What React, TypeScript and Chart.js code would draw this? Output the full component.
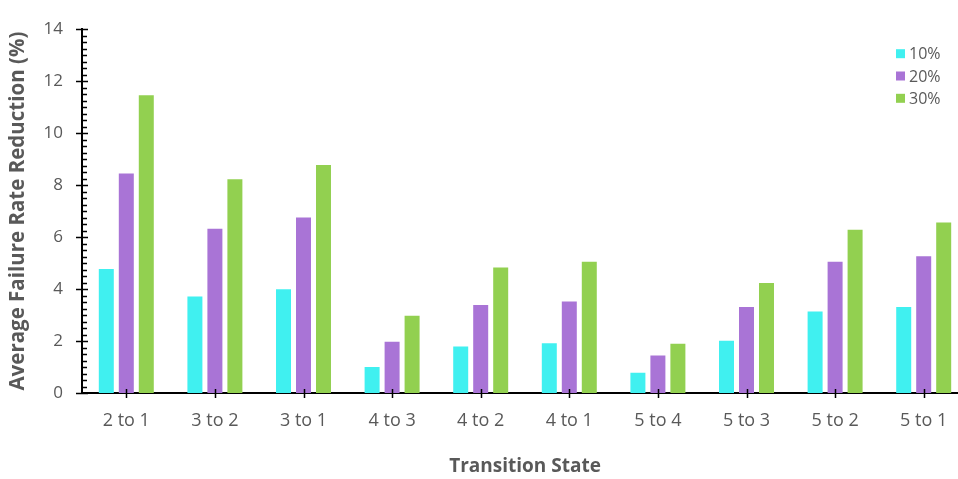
import React, { useEffect, useRef } from "react";
import { Chart, registerables } from "chart.js";

Chart.register(...registerables);

const categories = ["2 to 1", "3 to 2", "3 to 1", "4 to 3", "4 to 2", "4 to 1", "5 to 4", "5 to 3", "5 to 2", "5 to 1"];
const seriesLabels = ["10%", "20%", "30%"];
const values10 = [4.77, 3.71, 3.99, 1.0, 1.79, 1.91, 0.78, 2.01, 3.14, 3.31];
const values20 = [8.45, 6.32, 6.75, 1.97, 3.39, 3.52, 1.44, 3.31, 5.05, 5.26];
const values30 = [11.46, 8.23, 8.77, 2.97, 4.83, 5.05, 1.9, 4.23, 6.28, 6.56];
const yMin = 0;
const yMax = 14;
const yMajorStep = 2;
const yMinorStep = 0.25;

const colors = ["#40F0F0", "#A974D6", "#92D050"];
const FONT = "'Open Sans', 'Noto Sans', sans-serif";
const TEXT = "#595959";

const axisTicksPlugin = {
  id: "axisTicks",
  afterDraw(chart: any) {
    const { ctx } = chart;
    const y = chart.scales.y;
    const x = chart.scales.x;
    const area = chart.chartArea;
    ctx.save();
    ctx.strokeStyle = "#000";
    ctx.lineWidth = 1.5;
    ctx.beginPath();
    const n = Math.round((yMax - yMin) / yMinorStep);
    for (let i = 0; i <= n; i++) {
      const v = yMin + i * yMinorStep;
      const py = Math.round(y.getPixelForValue(v)) + 0.5;
      const major = Math.abs(v / yMajorStep - Math.round(v / yMajorStep)) < 1e-6;
      if (major) {
        ctx.moveTo(area.left - 6, py);
        ctx.lineTo(area.left + 6, py);
      } else {
        ctx.moveTo(area.left, py);
        ctx.lineTo(area.left + 5, py);
      }
    }
    for (let i = 0; i < categories.length; i++) {
      const px = Math.round(x.getPixelForValue(i)) + 0.5;
      ctx.moveTo(px, area.bottom - 4);
      ctx.lineTo(px, area.bottom + 5);
    }
    ctx.stroke();

    // legend inside chart area (top right)
    ctx.font = `16px ${FONT}`;
    ctx.textBaseline = "middle";
    ctx.textAlign = "left";
    chart.data.datasets.forEach((ds: any, i: number) => {
      const cy = area.top + 24.5 + i * 22.3;
      const bx = area.right - 72;
      ctx.fillStyle = ds.backgroundColor;
      ctx.fillRect(bx, cy - 4.5, 9, 9);
      ctx.fillStyle = TEXT;
      ctx.fillText(ds.label, bx + 13, cy + 1);
    });
    ctx.restore();
  },
};

export default function App() {
  const ref = useRef<HTMLCanvasElement | null>(null);
  useEffect(() => {
    if (!ref.current) return;
    const chart = new Chart(ref.current, {
      type: "bar",
      data: {
        labels: categories,
        datasets: [
          { label: seriesLabels[0], data: values10, backgroundColor: colors[0] },
          { label: seriesLabels[1], data: values20, backgroundColor: colors[1] },
          { label: seriesLabels[2], data: values30, backgroundColor: colors[2] },
        ],
      },
      options: {
        animation: false,
        responsive: true,
        maintainAspectRatio: false,
        layout: { padding: { top: 17, right: 0, left: 0, bottom: 0 } },
        datasets: {
          bar: { categoryPercentage: 0.677, barPercentage: 0.75 },
        },
        plugins: {
          legend: { display: false },
          tooltip: { enabled: false },
        },
        scales: {
          x: {
            grid: { display: false, drawTicks: false },
            border: { display: true, color: "#000", width: 2 },
            ticks: { color: TEXT, font: { family: FONT, size: 18 }, padding: 17, maxRotation: 0 },
            title: {
              display: true,
              text: "Transition State",
              color: TEXT,
              font: { family: FONT, size: 19, weight: "bold" },
              padding: { top: 0, bottom: 1 },
            },
            afterFit: (s: any) => {
              s.height = 86;
            },
          },
          y: {
            min: yMin,
            max: yMax,
            grid: { display: false, drawTicks: false },
            border: { display: true, color: "#000", width: 2 },
            ticks: { stepSize: yMajorStep, color: TEXT, font: { family: FONT, size: 17 }, padding: 19 },
            title: {
              display: true,
              text: "Average Failure Rate Reduction (%)",
              color: TEXT,
              font: { family: FONT, size: 20.5, weight: "bold" },
              padding: { top: 6, bottom: 0 },
            },
            afterFit: (s: any) => {
              s.width = 82;
            },
          },
        },
      },
      plugins: [axisTicksPlugin],
    });
    return () => chart.destroy();
  }, []);
  return (
    <div style={{ position: "fixed", left: 0, top: 0, width: 958, height: 479, overflow: "hidden", background: "#fff" }}>
      <div style={{ position: "relative", width: 968, height: 479 }}>
        <canvas ref={ref} />
      </div>
    </div>
  );
}
